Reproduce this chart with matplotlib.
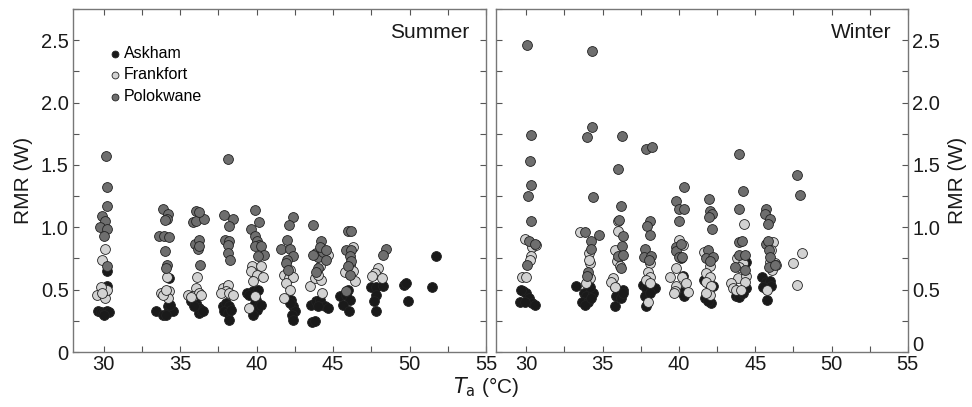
import numpy as np
import matplotlib.pyplot as plt
import matplotlib.transforms as mtransforms
from matplotlib.ticker import MultipleLocator, FuncFormatter

plt.rcParams['font.family'] = ['Liberation Sans', 'DejaVu Sans']

# Summer - Askham
sa_x = [30.2, 30.26, 29.67, 29.83, 29.98, 30.1, 30.26, 30.37, 30.04,
        33.43, 33.86, 34.19, 34.3, 34.52, 34.08, 34.37, 34.26,
        35.72, 36.05, 36.22, 36.27, 36.38, 35.94, 36.48,
        37.8, 38.01, 38.23, 37.9, 38.12, 38.34, 38.19,
        39.39, 39.76, 40.09, 39.5, 39.98, 39.87, 40.15, 40.02, 39.8, 40.31,
        42.27, 42.38, 42.49, 42.34, 42.38, 42.16,
        43.58, 43.91, 44.13, 44.45, 44.67, 44.02, 43.65, 43.8,
        45.44, 45.98, 45.87, 46.09, 45.66, 46.05,
        47.51, 47.84, 48.28, 47.8, 47.66, 47.84,
        49.65, 49.8, 49.91, 51.72, 51.5]
sa_y = [0.65, 0.53, 0.33, 0.32, 0.31, 0.32, 0.33, 0.32, 0.30,
        0.33, 0.30, 0.37, 0.33, 0.33, 0.30, 0.38, 0.59,
        0.41, 0.39, 0.35, 0.31, 0.34, 0.37, 0.33,
        0.37, 0.39, 0.37, 0.33, 0.31, 0.34, 0.26,
        0.47, 0.49, 0.50, 0.46, 0.42, 0.39, 0.38, 0.34, 0.30, 0.38,
        0.42, 0.37, 0.33, 0.30, 0.26, 0.39,
        0.38, 0.41, 0.42, 0.37, 0.35, 0.37, 0.24, 0.25,
        0.45, 0.50, 0.46, 0.42, 0.38, 0.33,
        0.52, 0.52, 0.53, 0.46, 0.41, 0.33,
        0.54, 0.55, 0.41, 0.77, 0.52]

# Summer - Frankfort
sf_x = [30.1, 29.91, 29.6, 29.98, 30.15, 30.1, 30.26, 29.83, 29.93,
        34.15, 33.76, 34.26, 34.19, 33.86, 34.08,
        36.09, 36.05, 35.5, 35.83, 36.27, 36.38, 35.72,
        37.8, 38.12, 38.01, 37.69, 38.23, 38.45,
        39.72, 40.31, 39.65, 40.02, 40.41, 39.76, 39.54, 39.87,
        41.83, 42.12, 42.16, 42.38, 41.94, 42.16, 41.83,
        43.47, 43.8, 44.24, 44.02, 44.13, 44.3, 44.67,
        46.31, 45.76, 46.09, 46.31, 46.42,
        47.95, 47.73, 48.17, 47.58]
sf_y = [0.83, 0.74, 0.46, 0.51, 0.49, 0.43, 0.50, 0.52, 0.47,
        0.60, 0.47, 0.49, 0.43, 0.46, 0.50,
        0.60, 0.51, 0.46, 0.45, 0.47, 0.46, 0.44,
        0.51, 0.54, 0.49, 0.47, 0.47, 0.46,
        0.69, 0.69, 0.65, 0.62, 0.60, 0.57, 0.35, 0.45,
        0.62, 0.59, 0.66, 0.60, 0.55, 0.50, 0.43,
        0.53, 0.59, 0.58, 0.62, 0.69, 0.47, 0.78,
        0.84, 0.64, 0.70, 0.65, 0.57,
        0.67, 0.63, 0.59, 0.61]

# Summer - Polokwane
sp_x = [30.15, 30.26, 30.24, 29.9, 30.1, 29.76, 30.26, 30.04, 30.26,
        33.86, 34.19, 34.15, 34.04, 33.65, 33.97, 34.3, 34.02, 34.15, 34.08,
        36.05, 35.83, 36.05, 36.55, 36.27, 36.0, 36.22, 36.16, 36.27, 36.33,
        38.14, 37.9, 38.45, 38.19, 37.97, 38.23, 38.14, 38.12, 38.28,
        39.93, 40.15, 39.67, 39.87, 40.02, 40.15, 39.93, 40.31, 40.46, 40.09,
        42.38, 42.12, 41.99, 41.62, 42.16, 42.38, 41.99, 41.94, 42.05,
        43.69, 44.24, 43.91, 44.02, 44.34, 44.56, 44.13, 43.69, 44.02, 43.86, 44.56,
        45.98, 46.2, 45.87, 46.2, 46.09, 46.2, 45.98, 46.09, 45.87,
        48.49, 48.28]
sp_y = [1.57, 1.32, 1.17, 1.09, 1.05, 1.00, 0.99, 0.93, 0.69,
        1.15, 1.11, 1.07, 1.06, 0.93, 0.93, 0.92, 0.81, 0.70, 0.67,
        1.13, 1.04, 1.05, 1.07, 1.12, 0.87, 0.90, 0.83, 0.85, 0.70,
        1.55, 1.10, 1.07, 1.01, 0.90, 0.89, 0.86, 0.79, 0.74,
        1.14, 1.04, 0.99, 0.93, 0.89, 0.86, 0.85, 0.85, 0.78, 0.77,
        1.08, 1.02, 0.90, 0.83, 0.83, 0.77, 0.74, 0.71, 0.66,
        1.02, 0.89, 0.79, 0.76, 0.80, 0.74, 0.84, 0.78, 0.67, 0.64, 0.82,
        0.97, 0.97, 0.82, 0.82, 0.77, 0.73, 0.69, 0.62, 0.49,
        0.83, 0.78]

# Winter - Askham
wa_x = [29.56, 29.78, 30.0, 30.17, 30.39, 30.55, 29.67, 29.89,
        33.28, 33.76, 33.93, 34.37, 33.67, 34.04, 33.82, 34.26, 34.15,
        35.83, 36.33, 35.9, 36.22, 35.79, 36.33,
        37.64, 37.86, 38.19, 38.41, 37.8, 38.08, 37.86,
        40.15, 40.31, 40.26, 40.11,
        41.62, 41.9, 42.23, 41.68, 42.12, 41.9,
        44.37, 43.76, 43.97, 44.41, 44.19,
        45.46, 45.68, 45.98, 46.05, 45.76, 45.5]
wa_y = [0.40, 0.49, 0.47, 0.43, 0.39, 0.38, 0.50, 0.40,
        0.53, 0.47, 0.45, 0.47, 0.40, 0.40, 0.38, 0.43, 0.52,
        0.52, 0.50, 0.45, 0.43, 0.37, 0.47,
        0.54, 0.51, 0.50, 0.51, 0.45, 0.47, 0.37,
        0.48, 0.45, 0.61, 0.75,
        0.58, 0.55, 0.53, 0.43, 0.39, 0.41,
        0.72, 0.45, 0.44, 0.51, 0.47,
        0.60, 0.56, 0.57, 0.53, 0.42, 0.52]

# Winter - Frankfort
wf_x = [29.89, 30.39, 30.61, 30.33, 30.26, 29.74, 30.0,
        33.49, 34.1, 34.15, 34.15, 33.93, 34.1,
        36.0, 36.0, 35.79, 35.94, 36.11, 35.68, 35.57, 35.79,
        38.08, 37.97, 38.08, 37.86, 38.08, 37.97,
        40.0, 40.26, 39.78, 39.39, 40.22, 39.83, 39.72, 40.48, 40.59, 39.67,
        41.64, 42.01, 41.75, 42.01, 41.79, 42.12, 42.05, 41.79,
        44.24, 43.8, 44.19, 43.86, 44.41, 44.3, 43.43, 43.54, 43.76, 44.08, 43.93,
        46.16, 46.05, 46.27, 46.38, 45.94, 46.11, 45.76,
        47.47, 48.06, 47.73]
wf_y = [0.91, 0.84, 0.86, 0.77, 0.74, 0.60, 0.60,
        0.96, 0.79, 0.71, 0.59, 0.55, 0.74,
        1.05, 0.97, 0.82, 0.73, 0.69, 0.59, 0.56, 0.52,
        0.71, 0.64, 0.60, 0.58, 0.55, 0.40,
        0.90, 0.86, 0.67, 0.60, 0.60, 0.53, 0.49, 0.55, 0.48, 0.47,
        0.80, 0.69, 0.63, 0.60, 0.56, 0.53, 0.46, 0.47,
        1.03, 0.75, 0.71, 0.59, 0.61, 0.56, 0.55, 0.51, 0.50, 0.50, 0.68,
        0.88, 0.82, 0.71, 0.70, 0.72, 0.66, 0.50,
        0.71, 0.79, 0.54]

# Winter - Polokwane
wp_x = [30.07, 30.28, 30.24, 30.28, 30.11, 30.33, 30.17, 30.55, 30.04,
        34.28, 34.3, 34.0, 34.37, 34.76, 33.86, 34.26, 34.26, 34.04, 33.97,
        36.27, 36.0, 36.22, 36.07, 36.33, 36.29, 36.0, 36.33, 36.22,
        37.82, 38.23, 38.08, 37.93, 38.14, 37.8, 37.69, 38.19, 38.03,
        40.31, 39.83, 40.04, 40.35, 39.98, 39.83, 39.78, 40.15, 40.04, 40.2,
        41.97, 42.01, 42.16, 41.97, 42.18, 41.9, 41.75, 42.23, 42.01,
        43.93, 44.19, 43.97, 43.97, 44.15, 43.97, 44.3, 43.65, 44.3,
        45.68, 45.61, 45.94, 45.83, 45.68, 45.83, 45.9, 45.94, 45.9, 46.27,
        47.73, 47.95]
wp_y = [2.46, 1.74, 1.53, 1.34, 1.25, 1.05, 0.89, 0.87, 0.70,
        2.41, 1.80, 1.72, 1.24, 0.94, 0.96, 0.89, 0.83, 0.64, 0.61,
        1.73, 1.47, 1.17, 1.06, 0.93, 0.85, 0.77, 0.78, 0.67,
        1.63, 1.64, 1.05, 1.01, 0.94, 0.83, 0.76, 0.77, 0.74,
        1.32, 1.21, 1.15, 1.15, 1.05, 0.84, 0.81, 0.87, 0.76, 0.76,
        1.23, 1.13, 1.11, 1.08, 0.99, 0.82, 0.75, 0.76, 0.73,
        1.59, 1.29, 1.15, 0.88, 0.89, 0.78, 0.78, 0.68, 0.66,
        1.15, 1.11, 1.07, 1.03, 0.87, 0.89, 0.82, 0.76, 0.68, 0.70,
        1.42, 1.26]

sites = ['Askham', 'Frankfort', 'Polokwane']
colors = ['#1a1a1a', '#d2d2d2', '#6e6e6e']

fig = plt.figure(figsize=(9.72, 4.07), dpi=100)
ax1 = fig.add_axes([0.075, 0.135, 0.425, 0.843])
ax2 = fig.add_axes([0.510, 0.135, 0.424, 0.843])

summer = [(sa_x, sa_y), (sf_x, sf_y), (sp_x, sp_y)]
winter = [(wa_x, wa_y), (wf_x, wf_y), (wp_x, wp_y)]

for ax, sets, title in [(ax1, summer, 'Summer'), (ax2, winter, 'Winter')]:
    for (xs, ys), c, name in zip(sets, colors, sites):
        ax.scatter(xs, ys, s=50, c=c, edgecolors='#222222', linewidths=0.6,
                   label=name, zorder=3)
    ax.set_xlim(28, 55)
    ax.set_ylim(0, 2.75)
    ax.xaxis.set_major_locator(MultipleLocator(5))
    ax.xaxis.set_minor_locator(MultipleLocator(2.5))
    ax.yaxis.set_major_locator(MultipleLocator(0.5))
    ax.yaxis.set_minor_locator(MultipleLocator(0.25))
    ax.yaxis.set_major_formatter(FuncFormatter(lambda v, p: '0' if v == 0 else f'{v:.1f}'))
    ax.tick_params(which='both', direction='in', top=True, right=True, left=True,
                   colors='#555555', labelcolor='#1a1a1a', labelsize=14.5, length=4, width=0.8)
    ax.tick_params(axis='x', pad=2)
    ax.tick_params(axis='y', pad=3)
    for s in ax.spines.values():
        s.set_color('#777777')
        s.set_linewidth(1.0)
    ax.text(0.96, 0.96, title, transform=ax.transAxes, ha='right', va='top',
            fontsize=15, color='#1a1a1a')

ax1.set_ylabel('RMR (W)', fontsize=15, color='#1a1a1a', labelpad=6)
ax2.tick_params(axis='y', labelleft=False, labelright=True)
ax2.yaxis.set_label_position('right')
ax2.set_ylabel('RMR (W)', fontsize=15, color='#1a1a1a', labelpad=6)

# lift the right-hand "0" a little, as in the original
fig.canvas.draw()
for t in ax2.yaxis.get_majorticklabels():
    if t.get_text() == '0':
        t.set_transform(t.get_transform() + mtransforms.ScaledTranslation(0, 6 / 72, fig.dpi_scale_trans))

ax1.legend(loc='upper left', bbox_to_anchor=(0.06, 0.92), frameon=False,
           fontsize=11.5, markerscale=0.7, handletextpad=0.05, labelspacing=0.4,
           borderaxespad=0.2, handlelength=1.0)

fig.text(0.5, 0.05, r'$T_\mathrm{a}$ (°C)', ha='center', va='center',
         fontsize=15, color='#1a1a1a')

fig.savefig('out.png', dpi=100)
